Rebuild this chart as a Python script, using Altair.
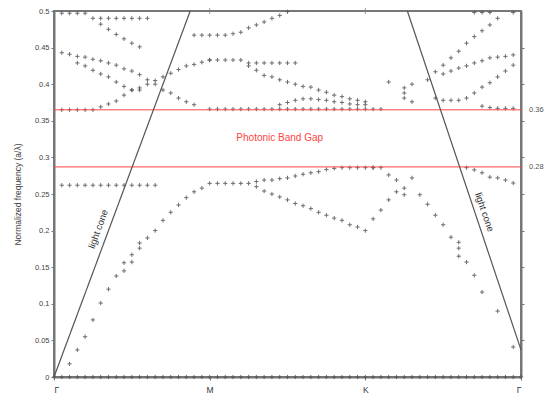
import altair as alt
import pandas as pd

# k-path index: Γ = 0, M = 20, K = 40, Γ = 60
k_ticks = [0, 20, 40, 60]
k_labels = ["Γ", "M", "K", "Γ"]

gap_low = 0.287
gap_high = 0.365
gap_labels = ["0.28", "0.36"]

# Band points along Γ–M
zero_k = list(range(0, 61))
zero_f = [0.0] * 61

acoustic_k = list(range(2, 21))
acoustic_f = [0.018, 0.037, 0.055, 0.078, 0.101, 0.12, 0.138, 0.145, 0.157, 0.176,
              0.19, 0.2, 0.214, 0.225, 0.235, 0.245, 0.253, 0.258, 0.2645]
acoustic_pair_k = [9, 10, 11]
acoustic_pair_f = [0.156, 0.167, 0.183]

flat_low_k = list(range(1, 14))
flat_low_f = [0.262] * 13

gm_gapedge_k = [1, 2, 3, 4, 5]
gm_gapedge_f = [0.365] * 5

gm_rise_k = list(range(6, 21))
gm_rise_f = [0.369, 0.373, 0.377, 0.385, 0.392, 0.395, 0.40, 0.405, 0.41, 0.415,
             0.42, 0.425, 0.427, 0.43, 0.433]

gm_descA_k = list(range(1, 19))
gm_descA_f = [0.443, 0.441, 0.438, 0.437, 0.434, 0.432, 0.429, 0.426, 0.421, 0.418,
              0.413, 0.406, 0.40, 0.392, 0.388, 0.381, 0.376, 0.372]

gm_descB_k = list(range(3, 12))
gm_descB_f = [0.429, 0.425, 0.419, 0.414, 0.41, 0.403, 0.397, 0.392, 0.392]

gm_top_k = [1, 2, 3, 4]
gm_top_f = [0.497] * 4

gm_row49_k = list(range(5, 13))
gm_row49_f = [0.49] * 8

gm_descC_k = list(range(6, 12))
gm_descC_f = [0.482, 0.475, 0.468, 0.462, 0.456, 0.451]

# Band points along M–K
mk_band1_k = list(range(21, 42))
mk_band1_f = [0.2645, 0.2645, 0.2645, 0.2645, 0.2645, 0.267, 0.269, 0.269, 0.271,
              0.272, 0.2746, 0.277, 0.279, 0.2805, 0.2835, 0.285, 0.286, 0.286,
              0.286, 0.286, 0.286]

mk_band2_k = list(range(26, 41))
mk_band2_f = [0.26, 0.254, 0.25, 0.246, 0.242, 0.237, 0.234, 0.23, 0.225, 0.221,
              0.217, 0.214, 0.208, 0.205, 0.2]

mk_gapedge_k = list(range(20, 43))
mk_gapedge_f = [0.366] * 23

mk_top_k = list(range(18, 31))
mk_top_f = [0.467, 0.467, 0.467, 0.467, 0.467, 0.469, 0.471, 0.477, 0.481, 0.485,
            0.49, 0.494, 0.499]

mk_mid_k = list(range(20, 32))
mk_mid_f = [0.433, 0.433, 0.433, 0.433, 0.433, 0.429, 0.429, 0.429, 0.429, 0.429,
            0.429, 0.429]

mk_desc_k = list(range(25, 41))
mk_desc_f = [0.425, 0.419, 0.412, 0.41, 0.406, 0.403, 0.40, 0.397, 0.396, 0.392,
             0.389, 0.385, 0.383, 0.38, 0.378, 0.376]

mk_low_k = list(range(29, 41))
mk_low_f = [0.372, 0.375, 0.378, 0.38, 0.38, 0.379, 0.378, 0.376, 0.375, 0.373,
            0.372, 0.372]

# Band points along K–Γ
kg_band2_k = [41, 42, 43, 44, 45]
kg_band2_f = [0.216, 0.228, 0.242, 0.253, 0.258]

kg_acoustic_k = [47, 48, 49, 50, 51, 52, 52, 52, 53, 54, 55, 57, 59]
kg_acoustic_f = [0.249, 0.236, 0.221, 0.208, 0.191, 0.184, 0.176, 0.165, 0.157,
                 0.139, 0.116, 0.09, 0.041]

kg_edge_k = [41, 42, 53, 54, 55, 56, 57, 58, 59]
kg_edge_f = [0.286, 0.286, 0.286, 0.283, 0.279, 0.273, 0.272, 0.269, 0.265]

kg_mix_k = [43, 44, 46, 45]
kg_mix_f = [0.276, 0.269, 0.272, 0.249]

kg_top_k = [54, 55, 56, 59]
kg_top_f = [0.498] * 4

kg_riseA_k = list(range(48, 58))
kg_riseA_f = [0.406, 0.417, 0.426, 0.436, 0.445, 0.456, 0.465, 0.473, 0.481, 0.49]

kg_riseB_k = list(range(50, 60))
kg_riseB_f = [0.414, 0.418, 0.422, 0.425, 0.429, 0.432, 0.436, 0.437, 0.438, 0.44]

kg_riseC_k = list(range(49, 60))
kg_riseC_f = [0.381, 0.378, 0.378, 0.378, 0.381, 0.388, 0.396, 0.402, 0.41, 0.418,
              0.426]

kg_gapedge_k = [55, 56, 57, 58, 59]
kg_gapedge_f = [0.37, 0.368, 0.367, 0.367, 0.367]

kg_cluster_k = [43, 45, 45, 45, 46, 46]
kg_cluster_f = [0.403, 0.395, 0.388, 0.381, 0.376, 0.4]

bands = [
    (zero_k, zero_f), (acoustic_k, acoustic_f), (acoustic_pair_k, acoustic_pair_f),
    (flat_low_k, flat_low_f), (gm_gapedge_k, gm_gapedge_f), (gm_rise_k, gm_rise_f),
    (gm_descA_k, gm_descA_f), (gm_descB_k, gm_descB_f), (gm_top_k, gm_top_f),
    (gm_row49_k, gm_row49_f), (gm_descC_k, gm_descC_f),
    (mk_band1_k, mk_band1_f), (mk_band2_k, mk_band2_f), (mk_gapedge_k, mk_gapedge_f),
    (mk_top_k, mk_top_f), (mk_mid_k, mk_mid_f), (mk_desc_k, mk_desc_f), (mk_low_k, mk_low_f),
    (kg_band2_k, kg_band2_f), (kg_acoustic_k, kg_acoustic_f), (kg_edge_k, kg_edge_f),
    (kg_mix_k, kg_mix_f), (kg_top_k, kg_top_f), (kg_riseA_k, kg_riseA_f),
    (kg_riseB_k, kg_riseB_f), (kg_riseC_k, kg_riseC_f), (kg_gapedge_k, kg_gapedge_f),
    (kg_cluster_k, kg_cluster_f),
]
rows = []
for ks, fs in bands:
    for k, f in zip(ks, fs):
        rows.append({"k": k, "f": f})
points = pd.DataFrame(rows)

# Light lines (start and end of each straight segment)
light_left = pd.DataFrame({"k": [0, 17.5], "f": [0.0, 0.5]})
light_right = pd.DataFrame({"k": [45.4, 60], "f": [0.5, 0.037]})

gap = pd.DataFrame({"f": [gap_low, gap_high], "label": gap_labels})

W, H = 467, 366
FONT = "Liberation Sans"
GRAY = "#777777"

xscale = alt.Scale(domain=[0, 60], nice=False, zero=False)
yscale = alt.Scale(domain=[0, 0.5], nice=False)

label_expr = "['Γ','M','K','Γ'][indexof([0,20,40,60], datum.value)]"
x_axis = alt.Axis(values=k_ticks, labelExpr=label_expr,
                  title=None, domainColor=GRAY, domainWidth=2, tickColor=GRAY,
                  tickSize=3, labelFont=FONT, labelFontSize=8.5, labelColor="#333",
                  labelPadding=5, grid=False)
y_axis = alt.Axis(orient="left",
                  values=[0, 0.05, 0.1, 0.15, 0.2, 0.25, 0.3, 0.35, 0.4, 0.45, 0.5],
                  format="~g", title="Normalized frequency (a/λ)", titleFont=FONT,
                  titleFontSize=8.5, titleFontWeight="normal", titleColor="#444",
                  titlePadding=12, domainColor=GRAY, domainWidth=2, tickColor=GRAY,
                  tickSize=3, labelFont=FONT, labelFontSize=7.5, labelColor="#444",
                  grid=False)
right_axis = alt.Axis(orient="right",
                      values=[0.05, 0.1, 0.15, 0.2, 0.25, 0.3, 0.35, 0.4, 0.45],
                      labels=False, title=None, domainColor=GRAY, domainWidth=2,
                      tickColor=GRAY, tickSize=3, grid=False)

X = alt.X("k:Q", scale=xscale, axis=x_axis)

pts = alt.Chart(points).mark_point(
    shape="M-1,0L1,0M0,-1L0,1", filled=False, size=18, strokeWidth=1,
    color="#555555", opacity=0.85
).encode(x=X, y=alt.Y("f:Q", scale=yscale, axis=y_axis))

line_l = alt.Chart(light_left).mark_line(color="#555555", strokeWidth=1.2).encode(
    x=X, y=alt.Y("f:Q", scale=yscale, axis=None))
line_r = alt.Chart(light_right).mark_line(color="#555555", strokeWidth=1.2).encode(
    x=X, y=alt.Y("f:Q", scale=yscale, axis=None))

gap_rules = alt.Chart(gap).mark_rule(color="#ff4444", strokeWidth=1).encode(
    y=alt.Y("f:Q", scale=yscale, axis=right_axis),
)
gap_text = alt.Chart(gap).mark_text(
    align="left", baseline="middle", font=FONT, fontSize=7.5, color="#555", dx=8
).encode(
    x=alt.value(W), y=alt.Y("f:Q", scale=yscale, axis=None), text="label:N")

gap_title = alt.Chart(pd.DataFrame({"k": [29], "f": [(gap_low + gap_high) / 2],
                                    "t": ["Photonic Band Gap"]})).mark_text(
    font=FONT, fontSize=10, color="#ff4444"
).encode(x=X, y=alt.Y("f:Q", scale=yscale, axis=None), text="t:N")

cone_text = alt.Chart(pd.DataFrame({
    "k": [5.7, 55.3], "f": [0.202, 0.225], "t": ["light cone", "light cone"],
    "a": [290, 71]})).mark_text(font=FONT, fontSize=9.5, color="#333").encode(
    x=X, y=alt.Y("f:Q", scale=yscale, axis=None),
    text="t:N", angle=alt.Angle("a:Q", scale=None))

top_ticks = alt.Chart(pd.DataFrame({"k": [20, 40]})).mark_tick(
    color=GRAY, thickness=1, size=6).encode(x=X, y=alt.value(0))

chart = alt.layer(
    pts, gap_rules, line_l, line_r, gap_text, gap_title, cone_text, top_ticks
).resolve_axis(y="independent").properties(
    width=W, height=H,
    autosize=alt.AutoSizeParams(type="none"),
    padding={"left": 54, "top": 11, "right": 27, "bottom": 24},
).configure_view(stroke=GRAY, strokeWidth=2)

chart.save("out.html", embed_options={"renderer": "svg", "actions": False})
